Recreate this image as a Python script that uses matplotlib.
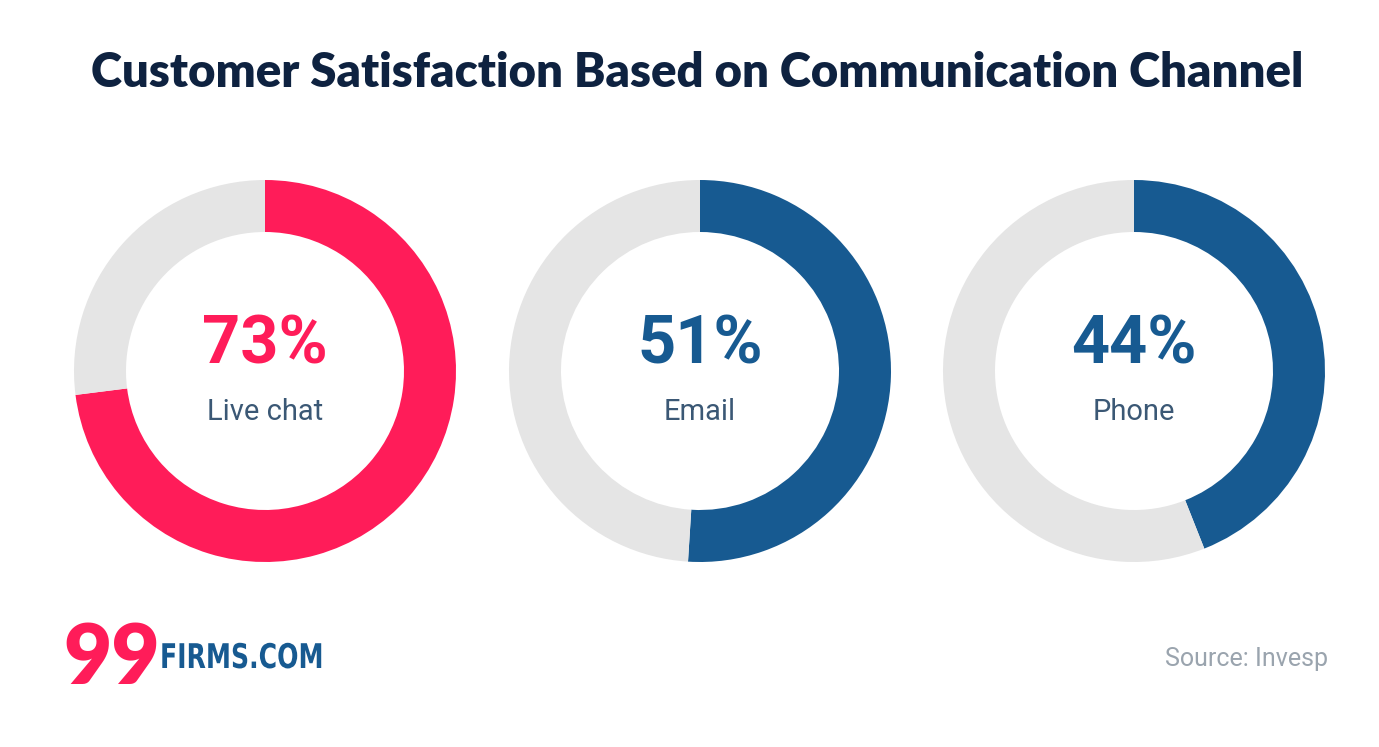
import matplotlib
matplotlib.use("Agg")
import matplotlib.pyplot as plt
from matplotlib.textpath import TextPath
from matplotlib.patches import PathPatch
from matplotlib.font_manager import FontProperties
from matplotlib.transforms import Affine2D

# data
channels = ["Live chat", "Email", "Phone"]
satisfaction = [73, 51, 44]
ring_colors = ["#FF1C59", "#175A91", "#175A91"]
centers_x = [265, 700, 1134]

PINK = "#FF1C59"
BLUE = "#175A91"
GRAY = "#E5E5E5"
NAVY = "#0E2240"

fig = plt.figure(figsize=(13.79, 7.47), dpi=100)
ax = fig.add_axes([0, 0, 1, 1])

ax.text(697, 73, "Customer Satisfaction Based on Communication Channel",
        ha="center", va="center", fontsize=34, fontweight="heavy",
        family=["Lato", "DejaVu Sans"], color=NAVY)

# y axis is flipped (pixel coords), so startangle -90 is the top and
# counterclock=True runs clockwise on screen
for name, val, col, cx in zip(channels, satisfaction, ring_colors, centers_x):
    ax.pie([val, 100 - val], colors=[col, GRAY], startangle=-90,
           counterclock=True, center=(cx, 371), radius=191,
           wedgeprops=dict(width=52, linewidth=0), frame=True)
    ax.text(cx, 345, f"{val}%", ha="center", va="center", fontsize=48,
            fontweight="bold", family=["Roboto", "DejaVu Sans"], color=col)
    ax.text(cx, 412, name, ha="center", va="center", fontsize=21,
            family=["Roboto", "DejaVu Sans"], color="#3B5875")

ax.set_xlim(0, 1379)
ax.set_ylim(747, 0)
ax.set_aspect("equal")
ax.axis("off")

# logo
ax.text(63, 660, "99", ha="left", va="center", fontsize=60, fontweight="heavy",
        family=["Lato", "DejaVu Sans"], color=PINK)
# narrow lettering: squeeze a text path horizontally
tp = TextPath((0, 0), "FIRMS.COM", size=34,
              prop=FontProperties(family="DejaVu Sans", weight="bold"))
tr = Affine2D().scale(0.74, -1.0).translate(160, 668) + ax.transData
ax.add_patch(PathPatch(tp, transform=tr, facecolor=BLUE, edgecolor="none"))

ax.text(1328, 659, "Source: Invesp", ha="right", va="center", fontsize=18,
        family=["Roboto", "DejaVu Sans"], color="#9AA4AE")

fig.savefig("out.png", dpi=100)
